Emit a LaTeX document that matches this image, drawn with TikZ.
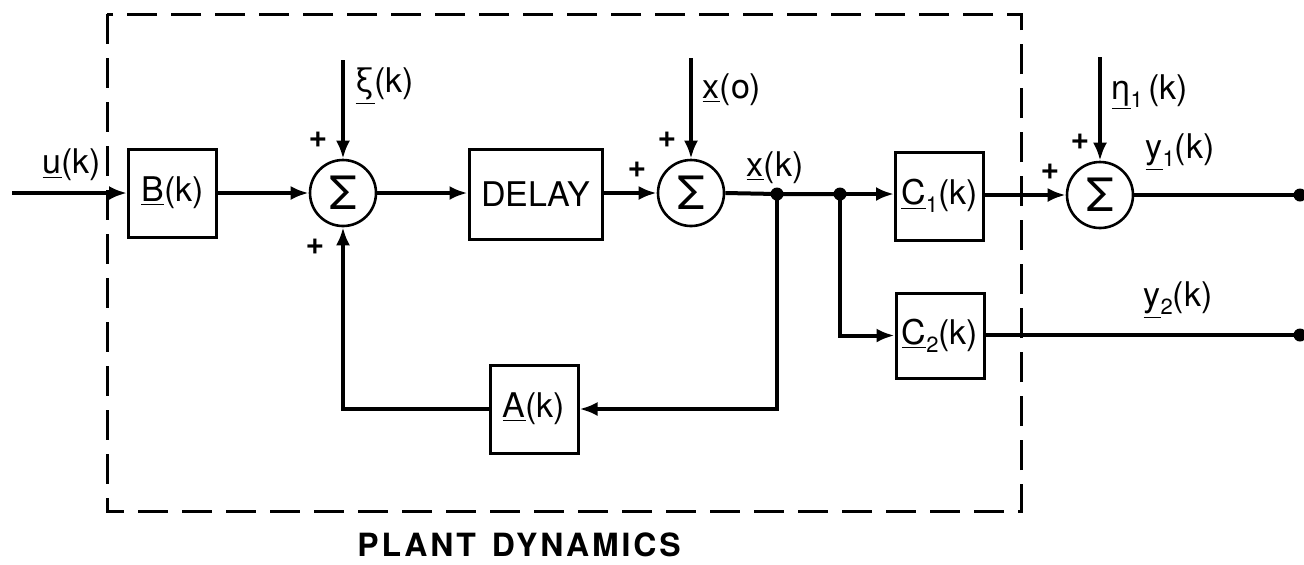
\documentclass[tikz,border=0pt]{standalone}
\usepackage{fontspec}
\setmainfont{TeX Gyre Heros}
\usetikzlibrary{arrows.meta}
\newcommand{\sbs}[1]{\raisebox{-4pt}{\fontsize{11}{11}\selectfont #1}}
\begin{document}
\begin{tikzpicture}[x=0.5pt,y=-0.5pt,
  blk/.style={draw, line width=1.5pt, minimum width=44pt, minimum height=44pt, inner sep=0pt, font=\fontsize{17}{20}\selectfont},
  sumn/.style={draw, circle, line width=1.3pt, minimum size=33pt, inner sep=0pt, font=\fontsize{23}{25}\selectfont},
  sig/.style={line width=2pt},
  arr/.style={sig, -{Latex[length=9pt,width=7pt]}},
  lbl/.style={font=\fontsize{17}{20}\selectfont, inner sep=0pt},
  pls/.style={font=\bfseries\fontsize{16}{18}\selectfont, inner sep=0pt},
  dotn/.style={circle, fill, inner sep=0pt, minimum size=6.5pt},
]
\useasboundingbox (0,0) rectangle (1304,564);
% dashed plant boundary
\draw[line width=1.5pt, dash pattern=on 15pt off 7pt] (107,14) rectangle (1021,511);
\node[font=\bfseries\fontsize{16}{18}\selectfont] (plant) at (519,545) {\addfontfeature{LetterSpace=9}PLANT\hspace{8pt}DYNAMICS};

% blocks
\node[blk] (B) at (172.5,193) {\underline{B}(k)};
\node[sumn] (s1) at (343,193) {Σ};
\node[blk, minimum width=66.5pt, minimum height=45pt] (delay) at (535.5,194) {DELAY};
\node[sumn] (s2) at (691,193) {Σ};
\node[blk] (C1) at (939.5,196) {\underline{C}\sbs{1}(k)};
\node[sumn] (s3) at (1100,195) {Σ};
\node[blk, minimum height=42.5pt] (C2) at (940,335.5) {\underline{C}\sbs{2}(k)};
\node[blk] (A) at (534,409) {\underline{A}(k)};

% coordinates
\coordinate (uin) at (12,193);
\coordinate (xi) at (343,60);
\coordinate (x0) at (691,58);
\coordinate (eta) at (1100,57);
\node[dotn] (j1) at (777,194) {};
\node[dotn] (j2) at (840,194) {};
\node[dotn] (o1) at (1300,195) {};
\node[dotn] (o2) at (1300,335) {};

% connectors
\draw[arr] (uin) -- (B.west);
\draw[arr] (B.east) -- (s1.west);
\draw[arr] (s1.east) -- (delay.west |- s1.east);
\draw[arr] (delay.east |- s2.west) -- (s2.west);
\draw[sig] (s2.east) -- (j1.center) -- (j2.center);
\draw[arr] (j2.center) -- (C1.west |- j2.center);
\draw[arr] (C1.east |- s3.west) -- (s3.west);
\draw[sig] (s3.east) -- (o1.center);
\draw[arr] (j2.center) |- (C2.west);
\draw[sig] (C2.east |- o2.center) -- (o2.center);
\draw[arr] (j1.center) |- (A.east);
\draw[arr] (A.west) -| (s1.south);
\draw[arr] (xi) -- (s1.north);
\draw[arr] (x0) -- (s2.north);
\draw[arr] (eta) -- (s3.north);

% labels
\node[lbl] (lu) at (72,165) {\underline{u}(k)};
\node[lbl] (lxi) at (385,86) {\underline{ξ}(k)};
\node[lbl] (lx0) at (732,90) {\underline{x}(o)};
\node[lbl] (lxk) at (775,168) {\underline{x}(k)};
\node[lbl] (leta) at (1150,92) {\underline{η}\sbs{1}\,(k)};
\node[lbl] (ly1) at (1180,152) {\underline{y}\sbs{1}(k)};
\node[lbl] (ly2) at (1178,300) {\underline{y}\sbs{2}(k)};

% plus signs
\node[pls] (p1) at (318,140) {+};
\node[pls] (p2) at (315,247) {+};
\node[pls] (p3) at (667,140) {+};
\node[pls] (p4) at (637,170) {+};
\node[pls] (p5) at (1080,142) {+};
\node[pls] (p6) at (1050,172) {+};
\end{tikzpicture}
\end{document}
